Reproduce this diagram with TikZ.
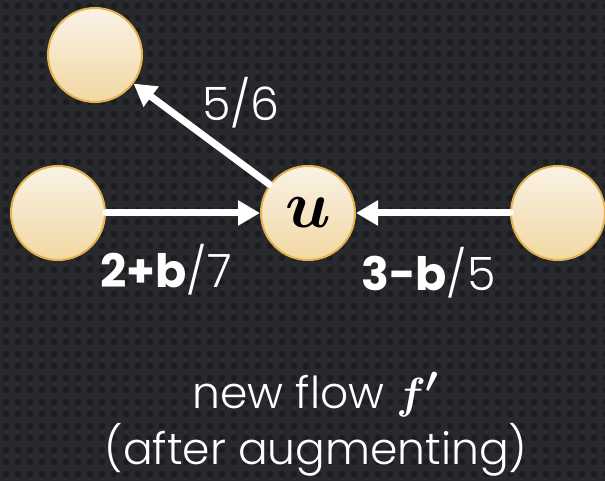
\documentclass[tikz,border=0pt]{standalone}
\usepackage{fontspec}
\usepackage{amsmath,amssymb,bm}
\usetikzlibrary{arrows.meta}
\IfFontExistsTF{Poppins-Light}
  {\setmainfont{Poppins}[UprightFont=*-Light,BoldFont=*-Bold]}
  {\setmainfont{Poppins}}
\definecolor{bgdark}{HTML}{27292D}
\definecolor{bgdot}{HTML}{1B1C1F}
\definecolor{nodetop}{HTML}{FAF2E6}
\definecolor{nodebot}{HTML}{F2D8A2}
\definecolor{nodeedge}{HTML}{E2B24E}
\newcommand{\bigmath}[2]{\scalebox{#1}{\fontsize{24.88}{28}\selectfont$\boldsymbol{#2}$}}
\tikzset{
  vertex/.style={circle,minimum size=94pt,inner sep=0pt,draw=nodeedge,line width=2pt,
    top color=nodetop,bottom color=nodebot},
  flow/.style={white,line width=7pt,line cap=round,-{Triangle[length=22pt,width=24pt]}},
  lbl/.style={text=white,font=\fontsize{46}{50}\selectfont,anchor=base,inner sep=0pt},
  caption/.style={text=white,font=\fontsize{44}{56}\selectfont,align=center,inner sep=0pt}
}

\begin{document}
\begin{tikzpicture}[x=1pt,y=-1pt]
\useasboundingbox (0,0) rectangle (605,481);
% background
\fill[bgdark] (0,0) rectangle (605,481);
\foreach \i in {0,...,50}
  \foreach \j in {0,...,40}
    {\fill[bgdot] (\i*12+6,\j*12+6) circle (3.2pt);}
% vertices
\node[vertex] (a) at (95,55) {};
\node[vertex] (s) at (58,213) {};
\node[vertex] (u) at (308,213) {\bigmath{2.7}{u}};
\node[vertex] (w) at (558,213) {};
% flow edges
\draw[flow] (u) -- (a) node[lbl,pos=0.21,yshift=43pt] {5/6};
\draw[flow] (s) -- (u) node[lbl,pos=0.39,yshift=-74pt] {\textbf{2+b}/7};
\draw[flow] (w) -- (u) node[lbl,pos=0.53,yshift=-77pt] {\textbf{3-b}/5};
\node[caption] (cap) at (316,424) {new flow \bigmath{1.75}{f'}\\(after augmenting)};
\end{tikzpicture}
\end{document}
